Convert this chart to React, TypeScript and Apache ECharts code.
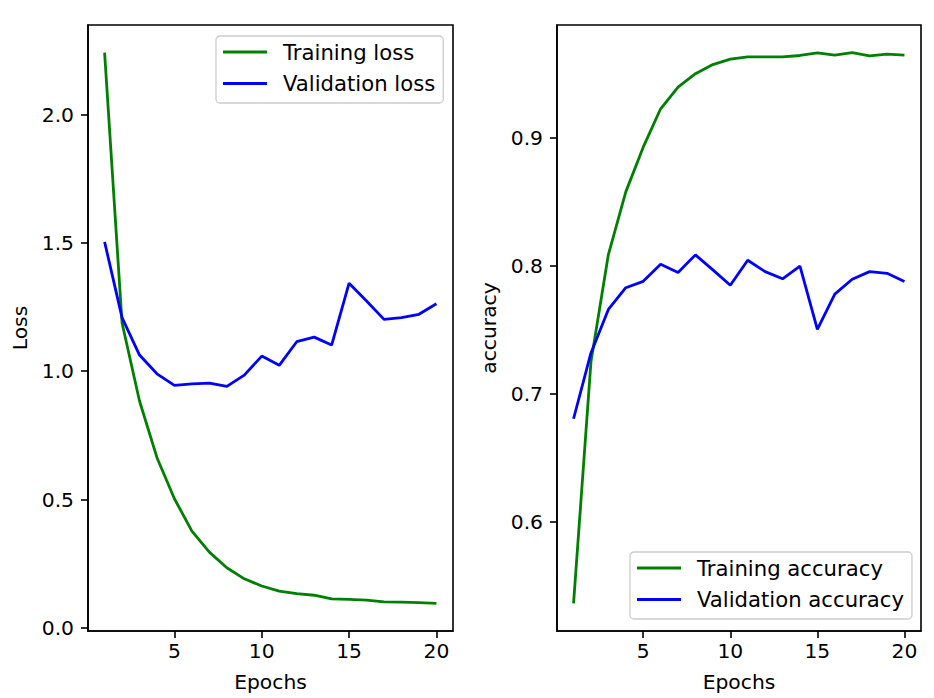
import React, { useEffect, useRef } from "react";
import * as echarts from "echarts";

const epochs = [1, 2, 3, 4, 5, 6, 7, 8, 9, 10, 11, 12, 13, 14, 15, 16, 17, 18, 19, 20];
const trainingLoss = [2.242, 1.188, 0.884, 0.663, 0.503, 0.377, 0.295, 0.234, 0.191, 0.163, 0.143, 0.133, 0.127, 0.113, 0.111, 0.108, 0.101, 0.1, 0.098, 0.095];
const validationLoss = [1.504, 1.209, 1.063, 0.99, 0.945, 0.951, 0.954, 0.941, 0.985, 1.059, 1.023, 1.115, 1.133, 1.102, 1.343, 1.274, 1.202, 1.209, 1.222, 1.263];
const trainingAccuracy = [0.536, 0.725, 0.809, 0.858, 0.893, 0.923, 0.94, 0.9505, 0.9576, 0.9618, 0.9636, 0.9636, 0.9636, 0.9647, 0.9667, 0.965, 0.967, 0.9644, 0.9657, 0.965];
const validationAccuracy = [0.6805, 0.732, 0.766, 0.783, 0.788, 0.8014, 0.795, 0.8087, 0.797, 0.785, 0.8045, 0.7956, 0.79, 0.8, 0.7504, 0.778, 0.7896, 0.7956, 0.7943, 0.7878];
const epochTicks = [5, 10, 15, 20];
const lossTicks = [0, 0.5, 1.0, 1.5, 2.0];
const accuracyTicks = [0.6, 0.7, 0.8, 0.9];

const FONT = "DejaVu Sans";
const FS = 20.3;
const LFS = 21.2;
const TXT = "#000000";

function padRange(values: number[]): [number, number] {
  const lo = Math.min(...values);
  const hi = Math.max(...values);
  const r = hi - lo;
  return [lo - 0.05 * r, hi + 0.05 * r];
}

function xAxisCfg(gridIndex: number) {
  const [mn, mx] = padRange(epochs);
  return {
    type: "value",
    gridIndex,
    min: mn,
    max: mx,
    name: "Epochs",
    nameLocation: "middle",
    nameGap: 41,
    nameTextStyle: { fontSize: FS, color: TXT, fontFamily: FONT },
    axisLine: { show: true, onZero: false, lineStyle: { color: "#000", width: 1.6 } },
    axisTick: { show: true, customValues: epochTicks, length: 7, lineStyle: { color: "#000", width: 1.6 } },
    axisLabel: { customValues: epochTicks, margin: 10, fontSize: FS, color: TXT, fontFamily: FONT },
    splitLine: { show: false },
  };
}

function yAxisCfg(gridIndex: number, name: string, ticks: number[], values: number[]) {
  const [mn, mx] = padRange(values);
  return {
    type: "value",
    gridIndex,
    min: mn,
    max: mx,
    name,
    nameLocation: "middle",
    nameGap: 58,
    nameTextStyle: { fontSize: FS, color: TXT, fontFamily: FONT },
    axisLine: { show: true, onZero: false, lineStyle: { color: "#000", width: 1.6 } },
    axisTick: { show: true, customValues: ticks, length: 7, lineStyle: { color: "#000", width: 1.6 } },
    axisLabel: {
      customValues: ticks,
      margin: 14,
      fontSize: FS,
      color: TXT,
      fontFamily: FONT,
      formatter: (v: number) => v.toFixed(1),
    },
    splitLine: { show: false },
  };
}

function lineSeries(name: string, values: number[], color: string, idx: number) {
  return {
    type: "line",
    name,
    xAxisIndex: idx,
    yAxisIndex: idx,
    data: epochs.map((e, i) => [e, values[i]]),
    symbol: "none",
    showSymbol: false,
    lineStyle: { color, width: 2.8 },
    itemStyle: { color },
    silent: true,
  };
}

function legendCfg(names: string[], left: number, top: number) {
  return {
    data: names,
    orient: "vertical",
    left,
    top,
    icon: "rect",
    itemWidth: 44,
    itemHeight: 3,
    itemGap: 10.5,
    padding: [5.5, 8, 9, 7],
    backgroundColor: "rgba(255,255,255,0.8)",
    borderColor: "#cccccc",
    borderWidth: 1.3,
    borderRadius: 4,
    textStyle: { fontSize: LFS, color: TXT, fontFamily: FONT, padding: [0, 0, 0, 11] },
  };
}

export default function App() {
  const ref = useRef<HTMLDivElement>(null);
  useEffect(() => {
    if (!ref.current) return;
    const chart = echarts.init(ref.current, null, { renderer: "svg" });
    const allLoss = trainingLoss.concat(validationLoss);
    const allAcc = trainingAccuracy.concat(validationAccuracy);
    chart.setOption({
      animation: false,
      backgroundColor: "#ffffff",
      grid: [
        { left: 88, top: 25, width: 365, height: 606, show: true, borderColor: "#000", borderWidth: 1.6, backgroundColor: "transparent" },
        { left: 557, top: 25, width: 364, height: 606, show: true, borderColor: "#000", borderWidth: 1.6, backgroundColor: "transparent" },
      ],
      xAxis: [xAxisCfg(0), xAxisCfg(1)],
      yAxis: [
        yAxisCfg(0, "Loss", lossTicks, allLoss),
        yAxisCfg(1, "accuracy", accuracyTicks, allAcc),
      ],
      legend: [
        legendCfg(["Training loss", "Validation loss"], 216, 36),
        legendCfg(["Training accuracy", "Validation accuracy"], 630, 552),
      ],
      series: [
        lineSeries("Training loss", trainingLoss, "#008000", 0),
        lineSeries("Validation loss", validationLoss, "#0000ff", 0),
        lineSeries("Training accuracy", trainingAccuracy, "#008000", 1),
        lineSeries("Validation accuracy", validationAccuracy, "#0000ff", 1),
      ],
    });
    return () => chart.dispose();
  }, []);
  return (
    <div
      ref={ref}
      style={{ position: "absolute", left: 0, top: 0, width: 934, height: 698, background: "#fff" }}
    />
  );
}
